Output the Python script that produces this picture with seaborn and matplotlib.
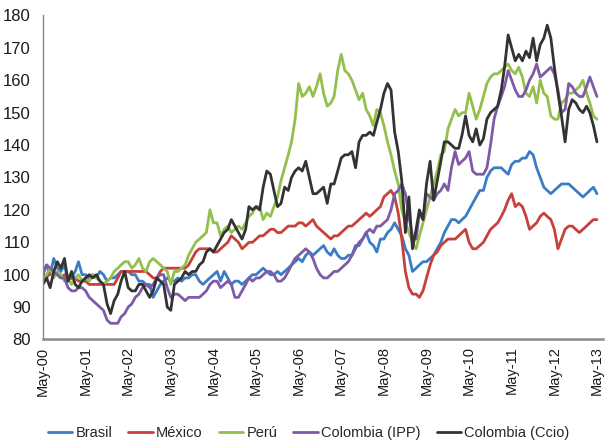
import pandas as pd
import matplotlib
matplotlib.use("Agg")
import matplotlib.pyplot as plt
import seaborn as sns

# monthly values, May-00 .. May-13 (157 months)
brasil = [
    101, 103, 100, 105, 102, 101, 103, 98, 99, 101, 104, 100,
    100, 99, 100, 99, 101, 100, 98, 99, 99, 100, 101, 101,
    101, 100, 100, 98, 98, 97, 97, 93, 95, 97, 98, 99,
    98, 98, 99, 98, 99, 99, 100, 100, 98, 97, 98, 99,
    100, 101, 98, 101, 99, 97, 98, 98, 97, 98, 99, 100,
    100, 101, 102, 101, 100, 100, 101, 100, 101, 102, 103, 104,
    105, 104, 106, 107, 106, 107, 108, 109, 107, 106, 108, 106,
    105, 105, 106, 106, 109, 109, 111, 113, 110, 109, 107, 111,
    111, 113, 114, 116, 114, 112, 108, 106, 101, 102, 103, 104,
    104, 105, 106, 108, 110, 113, 115, 117, 117, 116, 117, 118,
    120, 122, 124, 126, 126, 130, 132, 133, 133, 133, 132, 131,
    134, 135, 135, 136, 136, 138, 137, 133, 130, 127, 126, 125,
    126, 127, 128, 128, 128, 127, 126, 125, 124, 125, 126, 127, 125,
]
mexico = [
    100, 99, 101, 100, 100, 99, 100, 99, 99, 99, 98, 98,
    98, 97, 97, 97, 97, 97, 97, 97, 97, 99, 101, 101,
    101, 101, 101, 101, 101, 101, 100, 99, 99, 101, 102, 102,
    102, 102, 102, 102, 102, 103, 105, 107, 108, 108, 108, 108,
    107, 107, 108, 109, 110, 112, 111, 110, 108, 109, 110, 110,
    111, 112, 112, 113, 114, 114, 113, 113, 114, 115, 115, 115,
    116, 116, 115, 116, 117, 115, 114, 113, 112, 111, 112, 112,
    113, 114, 115, 115, 116, 117, 118, 119, 118, 119, 120, 121,
    124, 125, 126, 124, 119, 111, 101, 96, 94, 94, 93, 95,
    99, 103, 106, 107, 109, 110, 111, 111, 111, 112, 113, 114,
    110, 108, 108, 109, 110, 112, 114, 115, 116, 118, 120, 123,
    125, 121, 122, 121, 118, 114, 115, 116, 118, 119, 118, 117,
    114, 108, 111, 114, 115, 115, 114, 113, 114, 115, 116, 117, 117,
]
peru = [
    98, 100, 102, 99, 101, 100, 98, 99, 97, 99, 100, 98,
    99, 98, 100, 99, 98, 97, 98, 99, 101, 102, 103, 104,
    104, 102, 103, 105, 102, 101, 104, 105, 104, 103, 102, 101,
    97, 101, 101, 102, 103, 106, 108, 110, 111, 112, 113, 120,
    116, 116, 112, 114, 115, 113, 114, 115, 114, 116, 118, 119,
    121, 121, 117, 119, 118, 121, 124, 129, 133, 137, 141, 148,
    159, 155, 156, 158, 155, 158, 162, 156, 152, 153, 155, 163,
    168, 163, 162, 160, 157, 154, 156, 151, 149, 146, 151, 150,
    146, 141, 137, 132, 128, 120, 116, 113, 110, 108, 112, 116,
    120, 124, 128, 132, 137, 138, 145, 148, 151, 149, 150, 150,
    156, 152, 148, 151, 155, 159, 161, 162, 162, 163, 164, 165,
    163, 162, 164, 161, 156, 155, 158, 153, 160, 156, 155, 149,
    148, 148, 153, 154, 156, 156, 157, 158, 160, 156, 153, 149, 148,
]
colombia_ipp = [
    100, 103, 102, 101, 100, 99, 99, 96, 95, 95, 96, 96,
    95, 93, 92, 91, 90, 89, 86, 85, 85, 85, 87, 88,
    90, 91, 93, 94, 96, 97, 96, 97, 99, 100, 100, 96,
    93, 94, 94, 93, 92, 93, 93, 93, 93, 94, 95, 97,
    98, 98, 96, 97, 98, 97, 93, 93, 95, 97, 99, 98,
    99, 99, 100, 101, 101, 100, 98, 98, 99, 101, 103, 105,
    106, 107, 108, 107, 105, 102, 100, 99, 99, 100, 101, 101,
    102, 103, 104, 106, 108, 110, 111, 113, 114, 113, 115, 115,
    116, 117, 120, 125, 126, 128, 125, 118, 112, 111, 119, 117,
    125, 124, 123, 125, 126, 128, 126, 133, 138, 134, 135, 136,
    138, 132, 131, 131, 131, 133, 140, 148, 152, 155, 158, 163,
    160, 157, 155, 155, 157, 160, 162, 165, 161, 162, 163, 164,
    162, 157, 150, 151, 159, 158, 156, 155, 155, 158, 161, 158, 155,
]
colombia_ccio = [
    97, 99, 96, 101, 104, 102, 105, 98, 101, 97, 96, 98,
    99, 100, 99, 100, 98, 97, 91, 88, 92, 94, 98, 101,
    96, 95, 95, 97, 97, 95, 93, 95, 99, 98, 97, 90,
    89, 97, 98, 99, 101, 100, 101, 101, 103, 104, 107, 108,
    107, 109, 111, 113, 114, 117, 115, 113, 111, 114, 121, 120,
    121, 120, 127, 132, 131, 126, 121, 122, 127, 126, 130, 132,
    133, 132, 135, 130, 125, 125, 126, 127, 122, 128, 128, 132,
    136, 137, 137, 138, 133, 141, 143, 143, 144, 143, 147, 151,
    156, 159, 157, 144, 138, 129, 113, 124, 108, 114, 120, 117,
    128, 135, 123, 129, 135, 141, 141, 140, 139, 139, 143, 149,
    143, 141, 145, 140, 142, 148, 150, 151, 152, 157, 164, 174,
    170, 166, 168, 166, 169, 167, 173, 166, 171, 173, 177, 173,
    164, 156, 149, 141, 151, 154, 153, 151, 150, 152, 150, 146, 141,
]

series = ["Brasil", "México", "Perú", "Colombia (IPP)", "Colombia (Ccio)"]
colores = ["#3a7dc6", "#c8403b", "#93c04c", "#7e5aa7", "#333333"]
fechas = pd.date_range("2000-05-01", periods=len(brasil), freq="MS")

df = pd.concat([
    pd.DataFrame({"fecha": fechas, "valor": vals, "serie": nombre})
    for nombre, vals in zip(series, [brasil, mexico, peru, colombia_ipp, colombia_ccio])
])

sns.set_style("white")
plt.rcParams["font.family"] = ["Liberation Sans", "DejaVu Sans"]

fig = plt.figure(figsize=(6.05, 4.46), dpi=100)
ax = fig.add_axes([0.0711, 0.2388, 0.9256, 0.7265])
sns.lineplot(data=df, x="fecha", y="valor", hue="serie", hue_order=series,
             palette=dict(zip(series, colores)), linewidth=2.0, ax=ax)

ax.set_ylim(80, 180)
ax.set_yticks(range(80, 181, 10))
ax.set_xlim(pd.Timestamp("2000-05-01"), pd.Timestamp("2013-06-22"))
ticks = pd.date_range("2000-05-01", "2013-05-01", freq="12MS")
ax.set_xticks(ticks)
ax.set_xticklabels([t.strftime("%b-%y") for t in ticks], rotation=90)
ax.set_xlabel("")
ax.set_ylabel("")

for s in ["top", "right"]:
    ax.spines[s].set_visible(False)
ax.spines["left"].set_color("#8a8a8a")
ax.spines["left"].set_linewidth(1.0)
ax.spines["bottom"].set_color("#8a8a8a")
ax.spines["bottom"].set_linewidth(1.8)
ax.tick_params(axis="both", direction="in", length=4, color="#8a8a8a",
               labelcolor="#1a1a1a")
ax.tick_params(axis="y", pad=9, labelsize=12)
ax.tick_params(axis="x", pad=5, labelsize=10.5)

ax.legend(loc="lower center", bbox_to_anchor=(0.51, 0.0), bbox_transform=fig.transFigure,
          ncol=5, frameon=False, fontsize=10.5, handlelength=1.7, handletextpad=0.2,
          columnspacing=1.1, borderaxespad=0.0)

fig.savefig("out.png", dpi=100)
